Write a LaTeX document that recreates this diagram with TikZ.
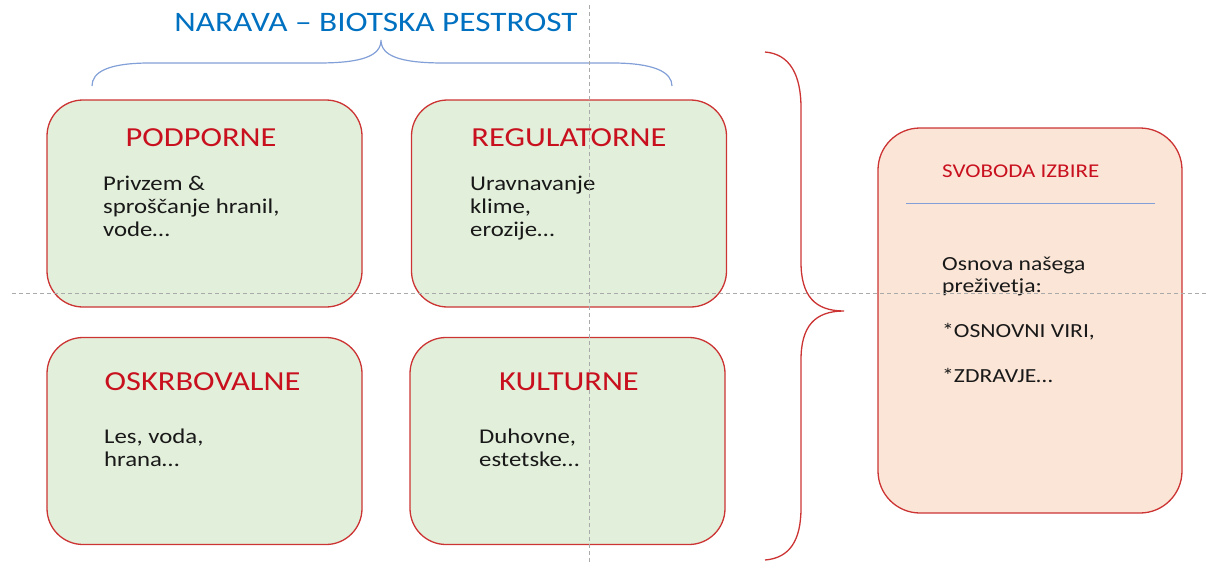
\documentclass[tikz,border=0pt]{standalone}
\usepackage{fontspec}
\setmainfont[FakeStretch=1.18]{Carlito}
\definecolor{boxred}{RGB}{204,52,52}
\definecolor{headred}{RGB}{200,16,30}
\definecolor{gfill}{RGB}{226,239,218}
\definecolor{pfill}{RGB}{251,229,214}
\definecolor{titleblue}{RGB}{0,112,192}
\definecolor{braceblue}{RGB}{130,160,215}
\definecolor{dashgray}{RGB}{170,170,170}
\definecolor{bodytext}{RGB}{25,25,25}
\tikzset{
  gbox/.style={draw=boxred, line width=1.3pt, fill=gfill, rounded corners=36pt,
    minimum width=315pt, minimum height=207pt, inner sep=0pt},
  pbox/.style={draw=boxred, line width=1.3pt, fill=pfill, rounded corners=42pt,
    minimum width=304pt, minimum height=385pt, inner sep=0pt},
  head/.style={text=headred, font=\fontsize{27.5}{33}\selectfont, inner sep=0pt, anchor=base},
  body/.style={text=bodytext, font=\fontsize{21}{23}\selectfont, inner sep=0pt, anchor=base west},
  guide/.style={draw=dashgray, line width=0.9pt, dash pattern=on 4pt off 3pt},
}
\begin{document}
\begin{tikzpicture}[x=1pt,y=-1pt]
\useasboundingbox (0,0) rectangle (1208,565);
% boxes
\node[gbox] (pod) at (204.5,203.5) {};
\node[gbox] (reg) at (569,203.5) {};
\node[gbox] (osk) at (204.5,441) {};
\node[gbox] (kul) at (567.5,441) {};
\node[pbox] (svo) at (1030,320.5) {};
% headings
\node[head] (podh) at (201,146) {PODPORNE};
\node[head] (regh) at (569,146) {REGULATORNE};
\node[head] (oskh) at (202.5,390) {OSKRBOVALNE};
\node[head] (kulh) at (569,390) {KULTURNE};
% body texts
\node[body] (podt) at (103,190.5) {\vtop{\baselineskip=23pt\hbox{Privzem \&}\hbox{sproščanje hranil,}\hbox{vode…}}};
\node[body] (regt) at (470,190.5) {\vtop{\baselineskip=23pt\hbox{Uravnavanje}\hbox{klime,}\hbox{erozije…}}};
\node[body] (oskt) at (104,443) {\vtop{\baselineskip=23pt\hbox{Les, voda,}\hbox{hrana…}}};
\node[body] (kult) at (479,443) {\vtop{\baselineskip=23pt\hbox{Duhovne,}\hbox{estetske…}}};
% right box content
\node[text=headred, font=\fontsize{19.5}{23}\selectfont, inner sep=0pt, anchor=base west] (svoh) at (942,177.5) {SVOBODA IZBIRE};
\coordinate (sepl) at (906,203.5);
\coordinate (sepr) at (1155,203.5);
\draw[braceblue, line width=1.2pt] (sepl) -- (sepr);
\node[body, font=\fontsize{20}{23}\selectfont] (svot) at (942,270) {\vtop{\baselineskip=22.5pt\hbox{Osnova našega}\hbox{preživetja:}\hbox{}\hbox{*OSNOVNI VIRI,}\hbox{}\hbox{*ZDRAVJE…}}};
% title
\node[text=titleblue, font=\fontsize{28.2}{33}\selectfont, inner sep=0pt, anchor=base] (title) at (376,31) {NARAVA – BIOTSKA PESTROST};
% blue brace
\coordinate (bl) at (92,86);
\coordinate (btip) at (381,40);
\coordinate (br) at (672,86);
\draw[braceblue, line width=1.2pt] (bl) .. controls (92,72) and (108,63) .. (150,63) -- (318,63)
  .. controls (362,63) and (381,56) .. (btip) .. controls (381,56) and (400,63) .. (444,63)
  -- (612,63) .. controls (654,63) and (672,72) .. (br);
% red brace
\coordinate (rt) at (765,52);
\coordinate (rtip) at (844,311);
\coordinate (rb) at (765,560);
\draw[boxred, line width=1.3pt] (rt) .. controls (790,54) and (801,75) .. (801,108) -- (801,262)
  .. controls (801,296) and (815,311) .. (rtip) .. controls (815,311) and (801,326) .. (801,360)
  -- (801,508) .. controls (801,540) and (790,558) .. (rb);
% guide lines
\coordinate (hl) at (12,293);
\coordinate (hr) at (1208,293);
\coordinate (vt) at (589,5);
\coordinate (vb) at (589,565);
\draw[guide] (hl) -- (hr);
\draw[guide] (vt) -- (vb);
\end{tikzpicture}
\end{document}
